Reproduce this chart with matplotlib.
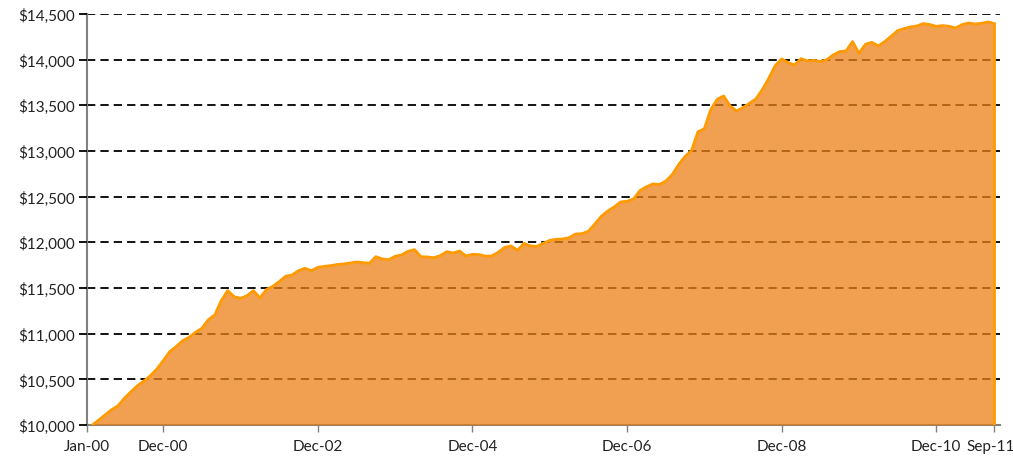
import numpy as np
import matplotlib.pyplot as plt
import matplotlib.transforms as mtransforms
from matplotlib.ticker import FuncFormatter

# Growth of $10,000, monthly from Jan-00 to Sep-11
values = [
    10000, 10055, 10113, 10168, 10212, 10296, 10365, 10431, 10482, 10540,
    10613, 10704, 10803, 10858, 10923, 10960, 11015, 11059, 11153, 11205,
    11361, 11471, 11405, 11387, 11416, 11471, 11391, 11482, 11518, 11570,
    11628, 11643, 11690, 11716, 11690, 11726, 11737, 11745, 11757, 11763,
    11774, 11785, 11778, 11770, 11843, 11818, 11810, 11847, 11862, 11902,
    11920, 11843, 11840, 11832, 11854, 11898, 11883, 11905, 11850, 11869,
    11865, 11850, 11850, 11891, 11945, 11960, 11913, 11989, 11960, 11956,
    11989, 12022, 12033, 12037, 12051, 12091, 12095, 12121, 12201, 12285,
    12343, 12387, 12442, 12449, 12475, 12566, 12608, 12639, 12633, 12670,
    12740, 12850, 12940, 13004, 13210, 13245, 13455, 13566, 13603, 13493,
    13438, 13475, 13522, 13570, 13672, 13796, 13935, 14008, 13968, 13942,
    14011, 13986, 13993, 13979, 14000, 14052, 14088, 14095, 14198, 14070,
    14168, 14190, 14150, 14198, 14256, 14318, 14340, 14358, 14369, 14395,
    14384, 14365, 14373, 14365, 14347, 14384, 14402, 14391, 14398, 14413,
    14395,
]
tick_months = [-0.79, 11, 35, 59, 83, 107, 131, 140]
tick_labels = ["Jan-00", "Dec-00", "Dec-02", "Dec-04", "Dec-06", "Dec-08", "Dec-10", "Sep-11"]
y_ticks = [10000, 10500, 11000, 11500, 12000, 12500, 13000, 13500, 14000, 14500]

plt.rcParams["font.family"] = ["Lato", "DejaVu Sans"]

months = np.arange(len(values))

fig = plt.figure(figsize=(10.13, 4.6), dpi=100)
ax = fig.add_axes([0.0862, 0.0739, 0.9010, 0.8935])

# dashed grid below the (semi-transparent) fill
for y in y_ticks[1:]:
    ax.axhline(y, color="black", lw=1.3, dashes=(4.6, 2.8), zorder=1)

ax.fill_between(months, values, y_ticks[0], color="#EB8016", alpha=0.75,
                lw=0, zorder=2)
ax.plot(months, values, color="#FF9A00", lw=2, zorder=3, solid_joinstyle="round")
ax.plot([months[-1], months[-1]], [values[-1], y_ticks[0]], color="#FF9A00",
        lw=2, zorder=3)

ax.set_xlim(-0.79, 140.9)
ax.set_ylim(10000, 14500)
ax.set_xticks(tick_months)
ax.set_xticklabels(tick_labels)
ax.set_yticks(y_ticks)
ax.yaxis.set_major_formatter(FuncFormatter(lambda v, p: f"${v:,.0f}"))

for side in ["top", "right"]:
    ax.spines[side].set_visible(False)
for side in ["left", "bottom"]:
    ax.spines[side].set_color("#808080")
    ax.spines[side].set_linewidth(1.5)
    ax.spines[side].set_zorder(1.5)

ax.tick_params(axis="x", length=5, width=1, color="#808080", labelsize=11,
               pad=5, labelcolor="#222222")
ax.tick_params(axis="y", length=6, width=1.3, color="black", labelsize=11,
               pad=3, labelcolor="#222222")

# keep the last label inside the figure
last = ax.get_xticklabels()[-1]
last.set_transform(last.get_transform() +
                   mtransforms.ScaledTranslation(-4 / 100, 0, fig.dpi_scale_trans))

fig.savefig("out.png", dpi=100)
